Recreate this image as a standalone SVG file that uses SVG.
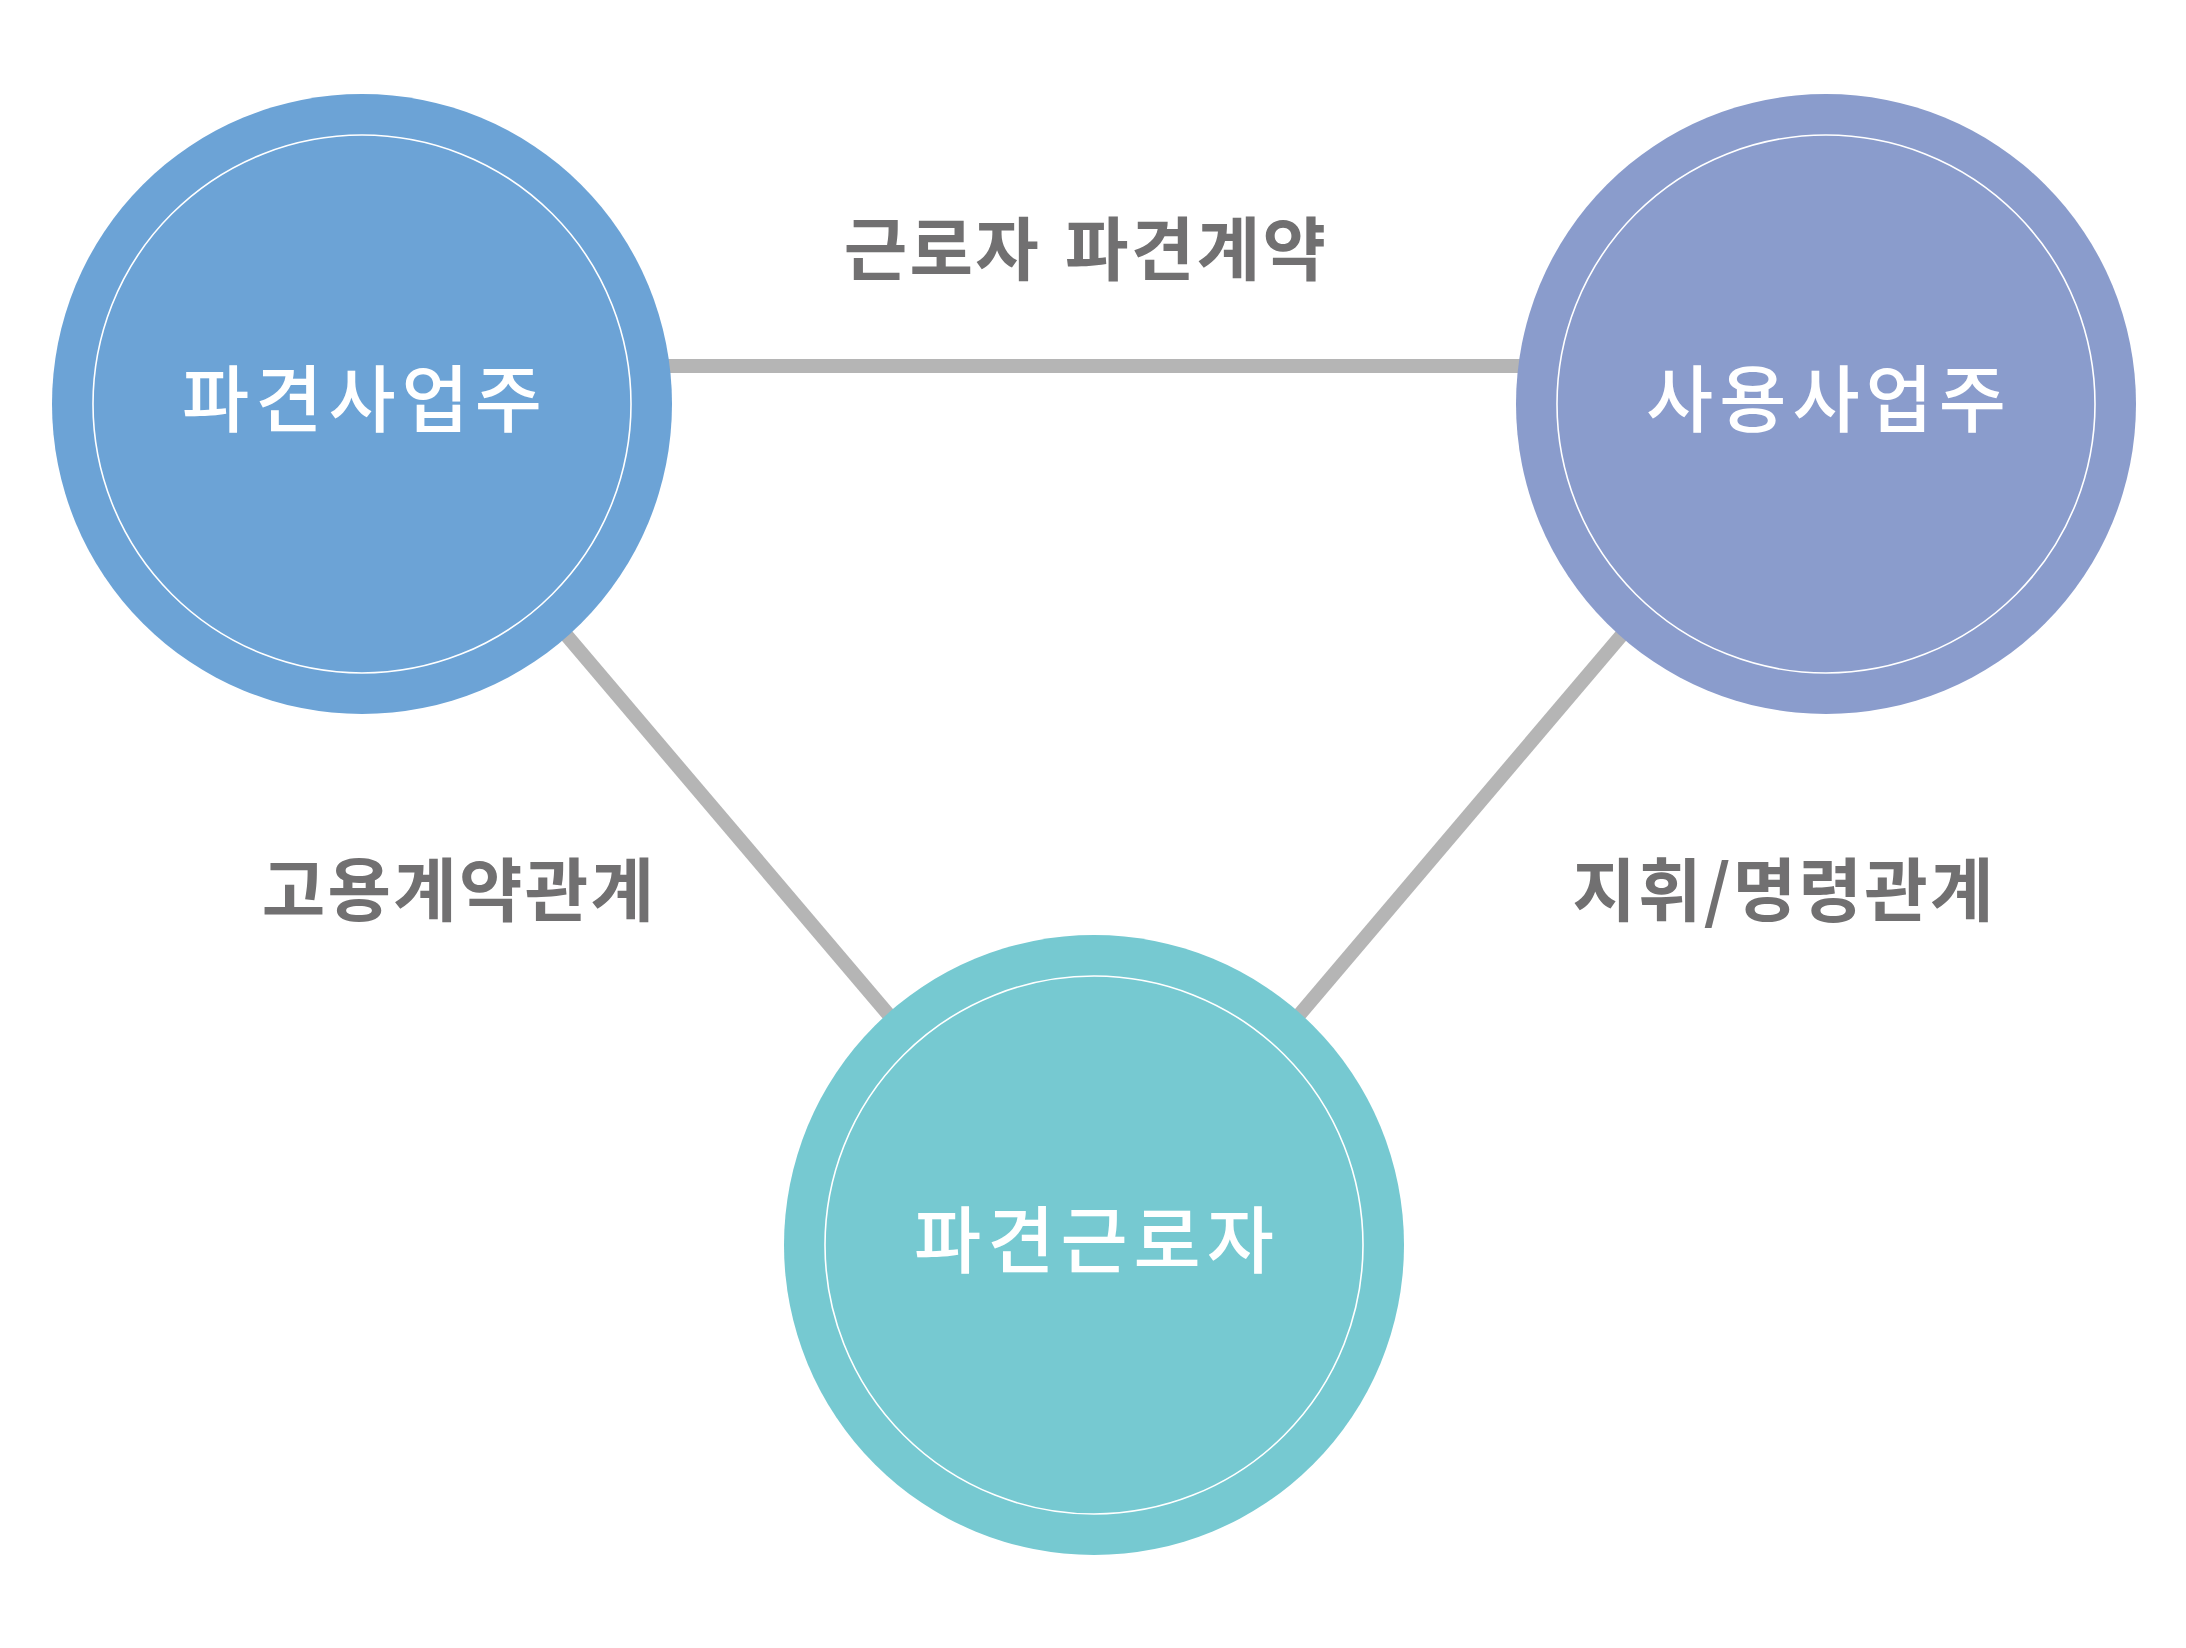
<svg xmlns="http://www.w3.org/2000/svg" width="2186" height="1648" viewBox="0 0 2186 1648">
  <style>
    .conn { stroke: #B5B5B5; stroke-width: 14; fill: none; }
    .outer { stroke: none; }
    .inner { fill: none; stroke: #FFFFFF; stroke-width: 1.6; }
    .node-label { font-family: "Noto Sans CJK KR", "Noto Sans", sans-serif; font-size: 73px; font-weight: 500; fill: #FFFFFF; text-anchor: middle; letter-spacing: 6px; }
    .edge-label { font-family: "Noto Sans CJK KR", "Noto Sans", sans-serif; font-size: 69px; font-weight: bold; fill: #717071; text-anchor: middle; letter-spacing: 2.3px; }
  </style>
  <rect width="2186" height="1648" fill="#FFFFFF"/>
  <g id="connectors">
    <line class="conn" x1="480" y1="366" x2="1700" y2="366"/>
    <line class="conn" x1="500" y1="557" x2="950" y2="1087"/>
    <line class="conn" x1="1688" y1="557" x2="1238" y2="1087"/>
  </g>
  <g id="edge-labels">
    <text class="edge-label" x="1086" y="275" word-spacing="6">근로자 파견계약</text>
    <text class="edge-label" x="459" y="916">고용계약관계</text>
    <text class="edge-label" x="1784" y="916">지휘/명령관계</text>
  </g>
  <g id="node-dispatcher">
    <circle class="outer" cx="362" cy="404" r="310" fill="#6CA3D6"/>
    <circle class="inner" cx="362" cy="404" r="269"/>
    <text class="node-label" x="365" y="426">파견사업주</text>
  </g>
  <g id="node-user">
    <circle class="outer" cx="1826" cy="404" r="310" fill="#8A9CCC"/>
    <circle class="inner" cx="1826" cy="404" r="269"/>
    <text class="node-label" x="1829" y="426">사용사업주</text>
  </g>
  <g id="node-worker">
    <circle class="outer" cx="1094" cy="1245" r="310" fill="#76C9D1"/>
    <circle class="inner" cx="1094" cy="1245" r="269"/>
    <text class="node-label" x="1097" y="1267">파견근로자</text>
  </g>
</svg>
